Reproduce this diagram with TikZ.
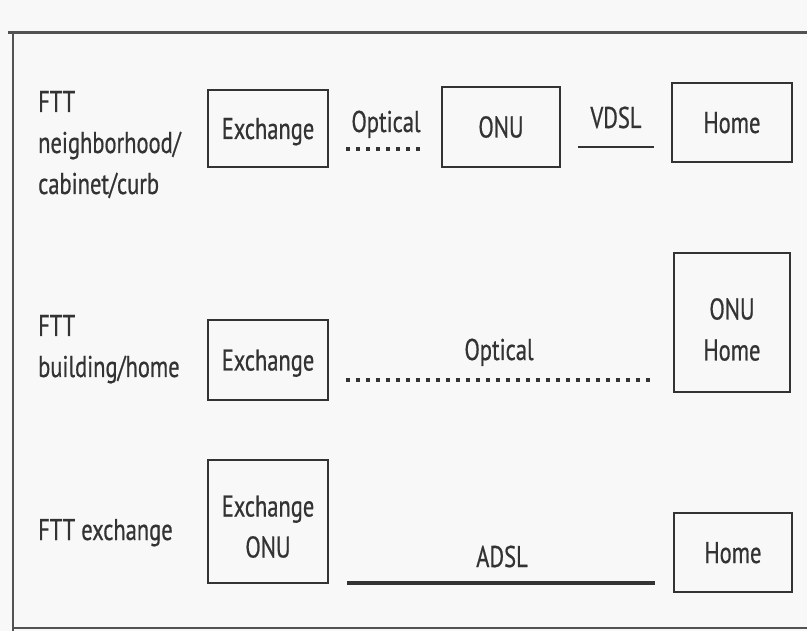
\documentclass[tikz,border=0pt]{standalone}
\usepackage{fontspec}
\setmainfont[FakeStretch=0.75,FakeBold=0.6]{PT Sans}
\definecolor{ink}{HTML}{333333}
\definecolor{bg}{HTML}{F8F8F8}
\begin{document}
\begin{tikzpicture}[x=1pt,y=-1pt, font=\fontsize{30}{41}\selectfont, text=ink,
  box/.style={draw=ink, line width=2.4pt, inner sep=0pt, align=center},
  one/.style={text height=21pt, text depth=0pt},
  lbl/.style={align=left, inner sep=0pt, anchor=base west},
  txt/.style={inner sep=0pt, anchor=base},
  optline/.style={draw=ink, line width=3.4pt, dash pattern=on 3.4pt off 6.6pt},
  culine/.style={draw=ink, line width=2.5pt},
  frameline/.style={draw=ink!85, line width=2pt}]
\fill[bg] (0,0) rectangle (807,631);
\useasboundingbox (0,0) rectangle (807,631);
% frame
\coordinate (ftl) at (8,33);
\coordinate (ftr) at (807,33);
\coordinate (flt) at (13,33);
\coordinate (flb) at (13,631);
\coordinate (fbl) at (13,628);
\coordinate (fbr) at (807,628);
\draw[frameline, line width=3pt] (ftl) -- (ftr);
\draw[frameline] (flt) -- (flb);
\draw[frameline] (fbl) -- (fbr);
% row labels (base anchor = baseline of the last line)
\node[lbl] (l1) at (38,194) {FTT\\neighborhood/\\cabinet/curb};
\node[lbl] (l2) at (38,377) {FTT\\building/home};
\node[lbl] (l3) at (38,540) {FTT exchange};
% row 1
\node[box, one, minimum width=120pt, minimum height=77pt] (ex1) at (268,128.5) {Exchange};
\node[box, one, minimum width=118pt, minimum height=80pt] (onu1) at (501,127) {ONU};
\node[box, one, minimum width=120pt, minimum height=79pt] (home1) at (732,122.5) {Home};
\draw[optline] ([xshift=17pt,yshift=-20.5pt]ex1.east) -- ([xshift=-15pt,yshift=-22pt]onu1.west);
\draw[culine] ([xshift=17pt,yshift=-20pt]onu1.east) -- ([xshift=-17pt,yshift=-24.5pt]home1.west);
\node[txt] (opt1) at (386,132) {Optical};
\node[txt] (vdsl) at (616,128) {VDSL};
% row 2
\node[box, one, minimum width=120pt, minimum height=80pt] (ex2) at (268,360) {Exchange};
\node[box, text height=76pt, text depth=0pt, minimum width=116pt, minimum height=139pt] (onuhome) at (732,322.5) {ONU\\Home};
\draw[optline] ([xshift=17pt,yshift=-20pt]ex2.east) -- ([xshift=-18pt,yshift=-57.5pt]onuhome.west);
\node[txt] (opt2) at (499,360) {Optical};
% row 3
\node[box, text height=72pt, text depth=0pt, minimum width=120pt, minimum height=123pt] (exonu) at (268,521.5) {Exchange\\ONU};
\node[box, one, minimum width=118pt, minimum height=79pt] (home3) at (733,552.5) {Home};
\draw[culine, line width=3.5pt] ([xshift=18pt,yshift=-61.5pt]exonu.east) -- ([xshift=-18pt,yshift=-30.5pt]home3.west);
\node[txt] (adsl) at (502,567) {ADSL};
\end{tikzpicture}
\end{document}
